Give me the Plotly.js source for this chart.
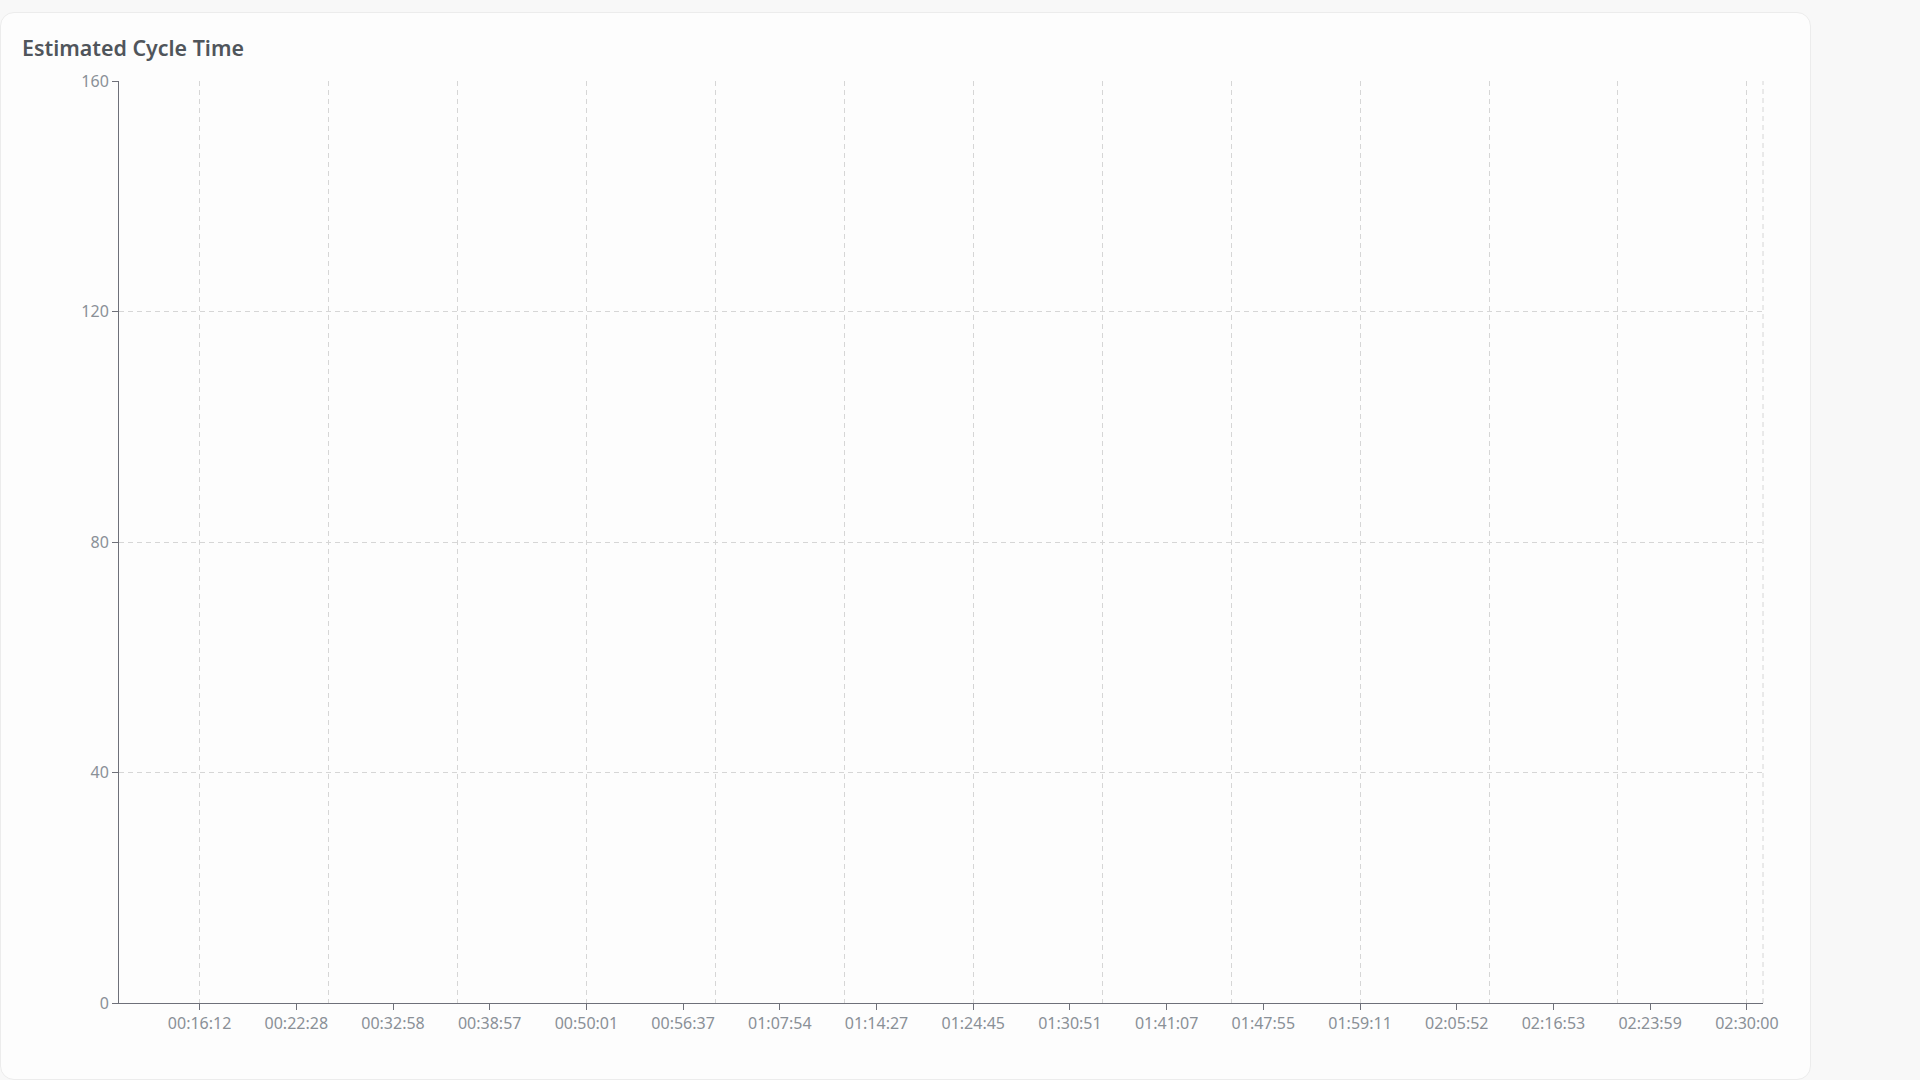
<!DOCTYPE html>
<html>
<head>
<meta charset="utf-8">
<script src="https://cdn.plot.ly/plotly-3.0.1.min.js"></script>
<style>
  html, body { margin: 0; padding: 0; width: 1920px; height: 1080px; overflow: hidden; background: #f8f8f8; }
  .card {
    position: absolute; left: 0px; top: 12px; width: 1811px; height: 1068px;
    background: #fdfdfd; border: 1px solid #ececec; border-radius: 14px; box-sizing: border-box;
  }
  #chart { position: absolute; left: 0; top: 0; width: 1920px; height: 1080px; }
</style>
</head>
<body>
<div class="card"></div>
<div id="chart"></div>
<script>
// tick labels shown on the time axis
const timeLabels = [
  "00:16:12", "00:22:28", "00:32:58", "00:38:57", "00:50:01", "00:56:37",
  "01:07:54", "01:14:27", "01:24:45", "01:30:51", "01:41:07", "01:47:55",
  "01:59:11", "02:05:52", "02:16:53", "02:23:59", "02:30:00"
];
// no values are drawn in the chart
const cycleTime = timeLabels.map(() => null);
const yTicks = [0, 40, 80, 120, 160];

const axisColor = "#6e7079";
const labelColor = "#8a9097";
const gridColor = "#d6d6d6";
const gridDash = "5px,4px";
const xRange = [-0.8333, 16.1667];

const trace1 = {
  x: timeLabels,
  y: cycleTime,
  type: "scatter",
  mode: "lines",
  line: { color: "#5470c6", width: 2 },
  hoverinfo: "none",
  showlegend: false,
};

// empty trace so the split-line axis is laid out
const gridTrace = {
  x: [],
  y: [],
  xaxis: "x2",
  type: "scatter",
  mode: "lines",
  hoverinfo: "none",
  showlegend: false,
};

const layout = {
  width: 1920,
  height: 1080,
  paper_bgcolor: "rgba(0,0,0,0)",
  plot_bgcolor: "rgba(0,0,0,0)",
  margin: { l: 119, r: 157, t: 81, b: 77 },
  font: { family: "Noto Sans, Open Sans, sans-serif", color: labelColor },
  title: {
    text: "Estimated Cycle Time",
    xref: "container",
    yref: "container",
    x: 22 / 1920,
    xanchor: "left",
    y: 1 - 49 / 1080,
    yanchor: "middle",
    font: { family: "Noto Sans, Open Sans, sans-serif", size: 21.4, weight: 600, color: "#50555b" },
  },
  xaxis: {
    type: "category",
    categoryorder: "array",
    categoryarray: timeLabels,
    range: xRange,
    showgrid: false,
    zeroline: false,
    showline: true,
    linecolor: axisColor,
    linewidth: 1,
    ticks: "outside",
    ticklen: 6,
    tickcolor: axisColor,
    tickfont: { size: 16, color: labelColor },
    fixedrange: true,
  },
  xaxis2: {
    overlaying: "x",
    anchor: "y",
    type: "linear",
    range: xRange,
    tick0: 0,
    dtick: 4 / 3,
    showgrid: true,
    gridcolor: gridColor,
    griddash: gridDash,
    gridwidth: 1,
    showticklabels: false,
    ticks: "",
    showline: false,
    zeroline: false,
    fixedrange: true,
  },
  yaxis: {
    range: [0, 160],
    tickvals: yTicks,
    showgrid: true,
    gridcolor: gridColor,
    griddash: gridDash,
    gridwidth: 1,
    zeroline: false,
    showline: true,
    linecolor: axisColor,
    linewidth: 1,
    ticks: "outside",
    ticklen: 6,
    tickcolor: axisColor,
    tickfont: { size: 16, color: labelColor },
    fixedrange: true,
  },
  shapes: [
    {
      type: "line",
      xref: "paper",
      yref: "paper",
      x0: 1, x1: 1, y0: 0, y1: 1,
      line: { color: gridColor, width: 1, dash: gridDash },
      layer: "below",
    },
  ],
};

const config = { staticPlot: true, displayModeBar: false };

Plotly.newPlot("chart", [trace1, gridTrace], layout, config);
</script>
</body>
</html>
